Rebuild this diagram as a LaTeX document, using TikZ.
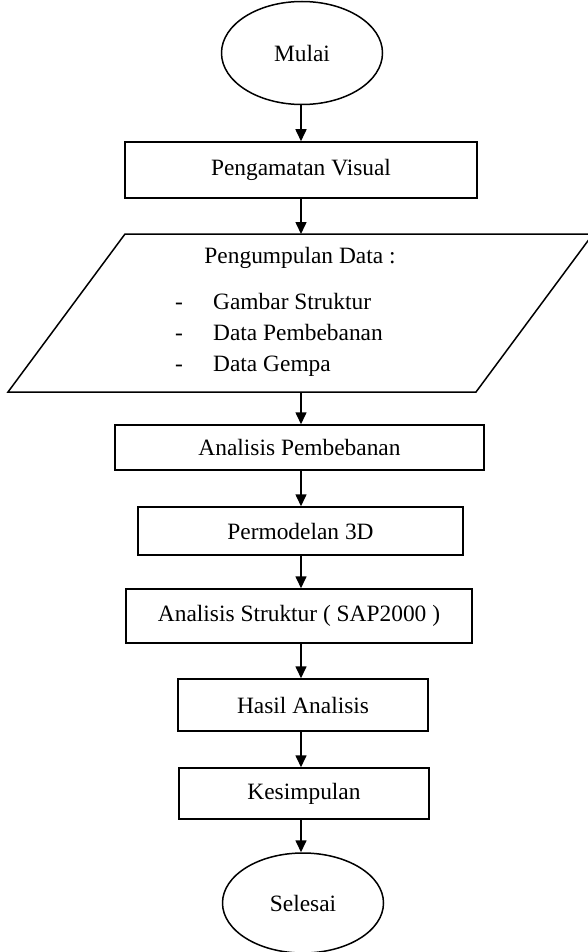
\documentclass[tikz,border=0pt]{standalone}
\usepackage{fontspec}
\setmainfont{Liberation Serif}
\usepackage{tikz}
\usetikzlibrary{arrows.meta, positioning, shapes.geometric}

\tikzset{
  teks/.style={font=\fontsize{23.4}{28}\selectfont},
  proses/.style={teks, draw, line width=1.5pt, inner sep=0pt},
  terminal/.style={teks, ellipse, draw, line width=1.5pt, inner sep=0pt, minimum width=161pt},
  alur/.style={-{Triangle[length=12pt, width=11pt]}, line width=1.6pt}
}

\begin{document}
\begin{tikzpicture}[x=1pt, y=-1pt]
  \useasboundingbox (0,0) rectangle (587,952);
  \node[terminal, minimum height=103pt] (mulai) at (302,53) {Mulai};
  \node[proses, minimum width=352pt, minimum height=56pt] (pengamatan) at (301,170) {Pengamatan Visual};
  \draw[line width=1.5pt] (125,234) -- (593,234) -- (476,392) -- (8,392) -- cycle;
  \coordinate (datatop) at (301,234);
  \coordinate (databot) at (301,392);
  \node[teks, anchor=base] (judul) at (300,263) {Pengumpulan Data :};
  \node[teks, anchor=base] (dash1) at (179,309) {-};
  \node[teks, anchor=base] (dash2) at (179,340) {-};
  \node[teks, anchor=base] (dash3) at (179,371) {-};
  \node[teks, anchor=base west, inner sep=0pt] (gambar) at (213,309) {Gambar Struktur};
  \node[teks, anchor=base west, inner sep=0pt] (beban) at (213,340) {Data Pembebanan};
  \node[teks, anchor=base west, inner sep=0pt] (gempa) at (213,371) {Data Gempa};
  \node[proses, minimum width=369pt, minimum height=45pt] (pembebanan) at (299.5,447.5) {Analisis Pembebanan};
  \node[proses, minimum width=325pt, minimum height=48pt] (permodelan) at (300.5,531) {Permodelan 3D};
  \node[proses, minimum width=346pt, minimum height=54pt] (struktur) at (299,616) {Analisis Struktur ( SAP2000 )};
  \node[proses, minimum width=250pt, minimum height=52pt] (hasil) at (303,705) {Hasil Analisis};
  \node[proses, minimum width=250pt, minimum height=51pt] (kesimpulan) at (304,793.5) {Kesimpulan};
  \node[terminal, minimum height=100pt] (selesai) at (303,903) {Selesai};

  \draw[alur] (301,0 |- mulai.south) -- (301,0 |- pengamatan.north);
  \draw[alur] (301,0 |- pengamatan.south) -- (datatop);
  \draw[alur] (databot) -- (301,0 |- pembebanan.north);
  \draw[alur] (301,0 |- pembebanan.south) -- (301,0 |- permodelan.north);
  \draw[alur] (301,0 |- permodelan.south) -- (301,0 |- struktur.north);
  \draw[alur] (301,0 |- struktur.south) -- (301,0 |- hasil.north);
  \draw[alur] (301,0 |- hasil.south) -- (301,0 |- kesimpulan.north);
  \draw[alur] (301,0 |- kesimpulan.south) -- (301,0 |- selesai.north);
\end{tikzpicture}
\end{document}
